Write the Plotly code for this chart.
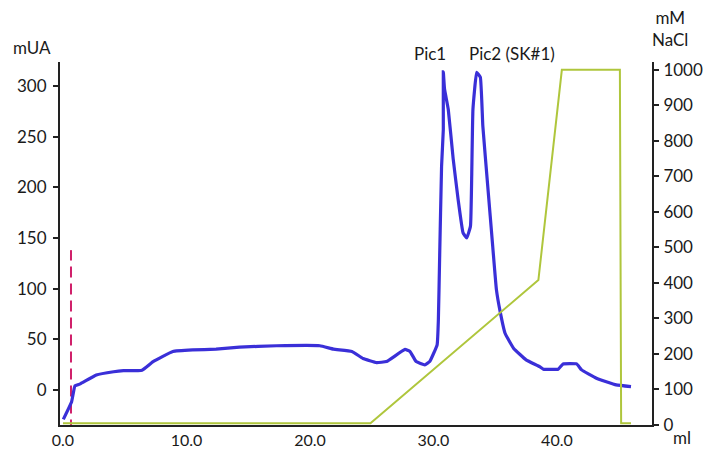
import plotly.graph_objects as go

# UV absorbance trace (mUA) vs volume (ml)
uv_ml = [0.03, 0.7, 0.97, 1.4, 2.7, 4.1, 4.9, 6.4, 7.3, 8.9, 10.5, 12.4, 14.3, 17.3, 20.8, 21.9,
         23.4, 24.3, 25.4, 26.2, 27.7, 28.1, 28.6, 29.3, 29.7, 30.3, 30.4, 30.5, 30.66, 30.8, 30.8,
         30.9, 31.2, 31.6, 32.0, 32.4, 32.7, 33.0, 33.1, 33.2, 33.5, 33.8, 34.0, 34.4, 34.8,
         35.1, 35.4, 35.8, 36.5, 37.5, 38.6, 38.9, 40.1, 40.5, 41.6, 42.0, 43.2, 44.8, 46.0]
uv_mua = [-29, -11.6, 4, 6, 14.8, 18, 19, 19.5, 28, 38, 39.5, 40.3, 42.3, 43.6, 43.6, 40.3,
          38, 31, 27, 28, 40, 38, 28, 24.8, 28, 44.6, 69, 128.7, 221, 257, 314,
          297, 277, 228, 188, 155, 150, 161.7, 211, 277, 313.5, 308.6, 260.7, 201, 141.9,
          99, 77.5, 56, 41, 29.7, 23, 20.5, 20.5, 25.7, 25.7, 19.8, 11.6, 5, 3.3]

# NaCl gradient (mM) vs volume (ml)
nacl_ml = [0.0, 24.9, 38.5, 40.4, 45.1, 45.2, 46.0]
nacl_mm = [5, 5, 408, 1000, 1000, 5, 5]

# injection marker
inject_ml = 0.65
inject_top = 138

left_ticks = [0, 50, 100, 150, 200, 250, 300]
right_ticks = [0, 100, 200, 300, 400, 500, 600, 700, 800, 900, 1000]
x_ticks = [0, 10, 20, 30, 40]

FONT = "Lato"
FS = 17
TXT = "#1a1a1a"

fig = go.Figure()
fig.add_trace(go.Scatter(x=nacl_ml, y=nacl_mm, mode="lines", yaxis="y2",
                         line=dict(color="#AFC63C", width=2), showlegend=False,
                         hoverinfo="skip"))
fig.add_trace(go.Scatter(x=[inject_ml, inject_ml], y=[-40, inject_top], mode="lines",
                         line=dict(color="#D0206A", width=2, dash="11px,6px"),
                         showlegend=False, hoverinfo="skip"))
fig.add_trace(go.Scatter(x=uv_ml, y=uv_mua, mode="lines",
                         line=dict(color="#3A2FD8", width=3.2, shape="spline", smoothing=0.3),
                         showlegend=False))

fig.update_layout(
    width=705, height=452,
    margin=dict(l=60, r=53, t=62, b=27),
    paper_bgcolor="white", plot_bgcolor="white",
    font=dict(family=FONT, size=FS, color=TXT),
    xaxis=dict(range=[-0.24, 47.7], tickvals=x_ticks, ticktext=[f"{v:.1f}" for v in x_ticks],
               showgrid=False, zeroline=False, showline=True, linecolor="#222222", linewidth=2,
               ticks="", ticklen=0, automargin=False, tickfont=dict(size=16)),
    yaxis=dict(range=[-34.6, 323.7], tickvals=left_ticks, showgrid=False, zeroline=False,
               showline=True, linecolor="#222222", linewidth=2, ticks="outside", ticklen=5,
               tickcolor="#222222", tickwidth=1.5, ticklabelstandoff=3, automargin=False),
    yaxis2=dict(range=[0, 1022], tickvals=right_ticks, overlaying="y", side="right",
                showgrid=False, zeroline=False, showline=True, linecolor="#222222", linewidth=2,
                ticks="outside", ticklen=5, tickcolor="#222222", tickwidth=1.5,
                ticklabelstandoff=1, automargin=False),
)

annots = [
    dict(text="mUA", x=-0.047, y=1.041, xref="paper", yref="paper"),
    dict(text="mM<br>NaCl", x=1.03, y=1.091, xref="paper", yref="paper"),
    dict(text="ml", x=1.05, y=-0.035, xref="paper", yref="paper"),
    dict(text="Pic1", x=29.7, y=1.024, xref="x", yref="paper"),
    dict(text="Pic2 (SK#1)", x=36.35, y=1.024, xref="x", yref="paper"),
]
for a in annots:
    fig.add_annotation(showarrow=False, xanchor="center", yanchor="middle",
                       font=dict(family=FONT, size=FS, color=TXT), **a)

fig.write_html("out.html")
